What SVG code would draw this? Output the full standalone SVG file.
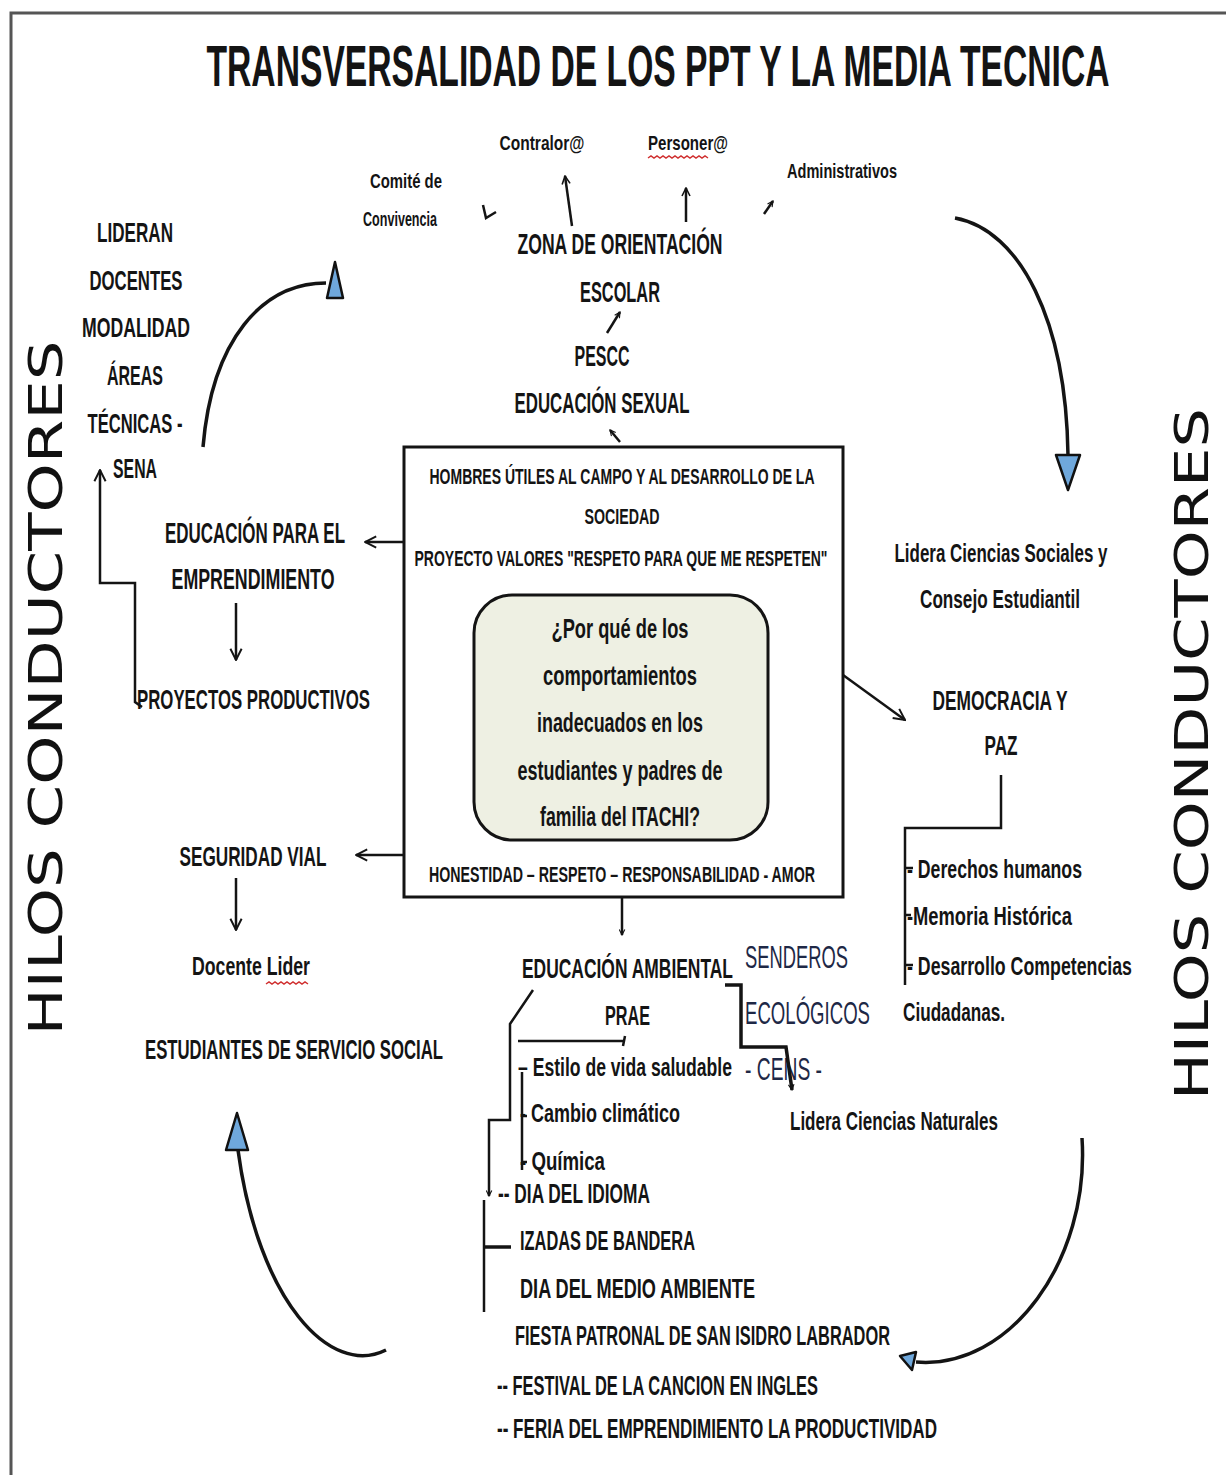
<svg xmlns="http://www.w3.org/2000/svg" width="1226" height="1475" viewBox="0 0 1226 1475">
<defs>
<style>
.t{font-family:"Liberation Sans",Arial,sans-serif;font-weight:bold;fill:#141414;}
.m{text-anchor:middle;}
.s{font-family:"Liberation Sans",Arial,sans-serif;fill:#1e2846;}
.h{font-family:"DejaVu Sans","Liberation Sans",sans-serif;fill:#111;font-size:46px;}
.ln{fill:none;stroke:#141414;stroke-width:2.5;}
.lt{fill:none;stroke:#141414;stroke-width:3.5;}
.tri{fill:#6fa8dc;stroke:#111;stroke-width:2.5;stroke-linejoin:round;}
.wave{fill:none;stroke:#d03030;stroke-width:1.5;}
</style>
<marker id="a" viewBox="0 0 10 10" refX="9" refY="5" markerWidth="7" markerHeight="7" orient="auto" markerUnits="userSpaceOnUse">
<path d="M1,1 L9,5 L1,9" fill="none" stroke="#141414" stroke-width="1.6"/>
</marker>
<marker id="as" viewBox="0 0 10 10" refX="9" refY="5" markerWidth="10" markerHeight="10" orient="auto" markerUnits="userSpaceOnUse">
<path d="M1,1 L9,5 L1,9" fill="none" stroke="#141414" stroke-width="1.6"/>
</marker>
<marker id="ab" viewBox="0 0 10 10" refX="9" refY="5" markerWidth="14" markerHeight="14" orient="auto" markerUnits="userSpaceOnUse">
<path d="M1,1 L9,5 L1,9" fill="none" stroke="#141414" stroke-width="1.4"/>
</marker>
</defs>
<rect x="0" y="0" width="1226" height="1475" fill="#fff"/>
<path d="M11,1475 L11,13 L1226,13" fill="none" stroke="#555" stroke-width="3"/>

<g id="title"><text class="t m" x="658" y="86" font-size="58" textLength="903" lengthAdjust="spacingAndGlyphs">TRANSVERSALIDAD DE LOS PPT Y LA MEDIA TECNICA</text></g>

<g id="hilos-left"><text class="h m" transform="translate(62,688) rotate(-90)" textLength="695" lengthAdjust="spacingAndGlyphs">HILOS CONDUCTORES</text></g>
<g id="hilos-right"><text class="h m" transform="translate(1208,754) rotate(-90)" textLength="692" lengthAdjust="spacingAndGlyphs">HILOS CONDUCTORES</text></g>

<g id="contralor"><text class="t m" x="542" y="150" font-size="21" textLength="85" lengthAdjust="spacingAndGlyphs">Contralor@</text></g>
<g id="personero"><text class="t m" x="688" y="150" font-size="21" textLength="80" lengthAdjust="spacingAndGlyphs">Personer@</text>
<path class="wave" d="M648,158 l3,-2 l3,2 l3,-2 l3,2 l3,-2 l3,2 l3,-2 l3,2 l3,-2 l3,2 l3,-2 l3,2 l3,-2 l3,2 l3,-2 l3,2 l3,-2 l3,2 l3,-2 l3,2"/></g>
<g id="comite"><text class="t m" x="406" y="188" font-size="21" textLength="72" lengthAdjust="spacingAndGlyphs">Comité de</text>
<text class="t m" x="400" y="226" font-size="21" textLength="74" lengthAdjust="spacingAndGlyphs">Convivencia</text></g>
<g id="administrativos"><text class="t m" x="842" y="178" font-size="20" textLength="110" lengthAdjust="spacingAndGlyphs">Administrativos</text></g>

<g id="zona"><text class="t m" x="620" y="254" font-size="30" textLength="205" lengthAdjust="spacingAndGlyphs">ZONA DE ORIENTACIÓN</text>
<text class="t m" x="620" y="302" font-size="30" textLength="80" lengthAdjust="spacingAndGlyphs">ESCOLAR</text></g>
<g id="pescc"><text class="t m" x="602" y="366" font-size="30" textLength="55" lengthAdjust="spacingAndGlyphs">PESCC</text>
<text class="t m" x="602" y="413" font-size="30" textLength="175" lengthAdjust="spacingAndGlyphs">EDUCACIÓN SEXUAL</text></g>

<g id="lideran">
<text class="t m" x="135" y="242" font-size="28" textLength="76" lengthAdjust="spacingAndGlyphs">LIDERAN</text>
<text class="t m" x="136" y="290" font-size="28" textLength="93" lengthAdjust="spacingAndGlyphs">DOCENTES</text>
<text class="t m" x="136" y="337" font-size="28" textLength="108" lengthAdjust="spacingAndGlyphs">MODALIDAD</text>
<text class="t m" x="135" y="385" font-size="28" textLength="56" lengthAdjust="spacingAndGlyphs">ÁREAS</text>
<text class="t m" x="135" y="433" font-size="28" textLength="95" lengthAdjust="spacingAndGlyphs">TÉCNICAS -</text>
<text class="t m" x="135" y="478" font-size="28" textLength="44" lengthAdjust="spacingAndGlyphs">SENA</text>
</g>
<g id="emprendimiento"><text class="t m" x="255" y="543" font-size="29" textLength="180" lengthAdjust="spacingAndGlyphs">EDUCACIÓN PARA EL</text>
<text class="t m" x="253" y="589" font-size="29" textLength="163" lengthAdjust="spacingAndGlyphs">EMPRENDIMIENTO</text></g>
<g id="proyectos"><text class="t" x="137" y="709" font-size="28" textLength="233" lengthAdjust="spacingAndGlyphs">PROYECTOS PRODUCTIVOS</text></g>
<g id="seguridad"><text class="t m" x="253" y="866" font-size="28" textLength="147" lengthAdjust="spacingAndGlyphs">SEGURIDAD VIAL</text></g>
<g id="docente"><text class="t m" x="251" y="975" font-size="25" textLength="118" lengthAdjust="spacingAndGlyphs">Docente Lider</text>
<path class="wave" d="M266,984 l3,-2 l3,2 l3,-2 l3,2 l3,-2 l3,2 l3,-2 l3,2 l3,-2 l3,2 l3,-2 l3,2 l3,-2 l3,2"/></g>
<g id="estudiantes"><text class="t m" x="294" y="1059" font-size="28" textLength="298" lengthAdjust="spacingAndGlyphs">ESTUDIANTES DE SERVICIO SOCIAL</text></g>

<g id="centro">
<rect x="404" y="447" width="439" height="450" fill="#fff" stroke="#141414" stroke-width="3"/>
<text class="t m" x="622" y="484" font-size="22" textLength="385" lengthAdjust="spacingAndGlyphs">HOMBRES ÚTILES AL CAMPO Y AL DESARROLLO DE LA</text>
<text class="t m" x="622" y="524" font-size="22" textLength="75" lengthAdjust="spacingAndGlyphs">SOCIEDAD</text>
<text class="t m" x="621" y="566" font-size="22" textLength="413" lengthAdjust="spacingAndGlyphs">PROYECTO VALORES "RESPETO PARA QUE ME RESPETEN"</text>
<text class="t m" x="622" y="882" font-size="22" textLength="386" lengthAdjust="spacingAndGlyphs">HONESTIDAD – RESPETO – RESPONSABILIDAD - AMOR</text>
</g>
<g id="pregunta">
<rect x="474" y="595" width="294" height="245" rx="38" fill="#eef0e3" stroke="#141414" stroke-width="3"/>
<text class="t m" x="620" y="638" font-size="28" textLength="137" lengthAdjust="spacingAndGlyphs">¿Por qué de los</text>
<text class="t m" x="620" y="685" font-size="28" textLength="154" lengthAdjust="spacingAndGlyphs">comportamientos</text>
<text class="t m" x="620" y="732" font-size="28" textLength="166" lengthAdjust="spacingAndGlyphs">inadecuados en los</text>
<text class="t m" x="620" y="780" font-size="28" textLength="205" lengthAdjust="spacingAndGlyphs">estudiantes y padres de</text>
<text class="t m" x="620" y="826" font-size="28" textLength="160" lengthAdjust="spacingAndGlyphs">familia del ITACHI?</text>
</g>

<g id="sociales"><text class="t m" x="1001" y="562" font-size="25" textLength="213" lengthAdjust="spacingAndGlyphs">Lidera Ciencias Sociales y</text>
<text class="t m" x="1000" y="608" font-size="25" textLength="160" lengthAdjust="spacingAndGlyphs">Consejo Estudiantil</text></g>
<g id="democracia"><text class="t m" x="1000" y="710" font-size="27" textLength="135" lengthAdjust="spacingAndGlyphs">DEMOCRACIA Y</text>
<text class="t m" x="1001" y="755" font-size="27" textLength="33" lengthAdjust="spacingAndGlyphs">PAZ</text></g>
<g id="democracia-items">
<text class="t" x="907" y="878" font-size="25" textLength="175" lengthAdjust="spacingAndGlyphs">- Derechos humanos</text>
<text class="t" x="907" y="925" font-size="25" textLength="165" lengthAdjust="spacingAndGlyphs">-Memoria Histórica</text>
<text class="t" x="907" y="975" font-size="25" textLength="225" lengthAdjust="spacingAndGlyphs">- Desarrollo Competencias</text>
<text class="t" x="903" y="1021" font-size="25" textLength="102" lengthAdjust="spacingAndGlyphs">Ciudadanas.</text>
</g>

<g id="ambiental"><text class="t" x="522" y="978" font-size="27" textLength="211" lengthAdjust="spacingAndGlyphs">EDUCACIÓN AMBIENTAL</text>
<text class="t" x="605" y="1025" font-size="27" textLength="45" lengthAdjust="spacingAndGlyphs">PRAE</text></g>
<g id="senderos">
<text class="s" x="745" y="968" font-size="31" textLength="103" lengthAdjust="spacingAndGlyphs">SENDEROS</text>
<text class="s" x="745" y="1024" font-size="31" textLength="125" lengthAdjust="spacingAndGlyphs">ECOLÓGICOS</text>
<text class="s" x="745" y="1080" font-size="31" textLength="77" lengthAdjust="spacingAndGlyphs">- CENS -</text>
</g>
<g id="prae-items">
<text class="t" x="518" y="1076" font-size="25" textLength="214" lengthAdjust="spacingAndGlyphs">– Estilo de vida saludable</text>
<text class="t" x="520" y="1122" font-size="25" textLength="160" lengthAdjust="spacingAndGlyphs">- Cambio climático</text>
<text class="t" x="520" y="1170" font-size="25" textLength="85" lengthAdjust="spacingAndGlyphs">- Química</text>
</g>
<g id="naturales"><text class="t" x="790" y="1130" font-size="25" textLength="208" lengthAdjust="spacingAndGlyphs">Lidera Ciencias Naturales</text></g>
<g id="eventos">
<text class="t" x="498" y="1203" font-size="27" textLength="152" lengthAdjust="spacingAndGlyphs">-- DIA DEL IDIOMA</text>
<text class="t" x="520" y="1250" font-size="27" textLength="175" lengthAdjust="spacingAndGlyphs">IZADAS DE BANDERA</text>
<text class="t" x="520" y="1298" font-size="27" textLength="235" lengthAdjust="spacingAndGlyphs">DIA  DEL  MEDIO AMBIENTE</text>
<text class="t" x="515" y="1345" font-size="27" textLength="375" lengthAdjust="spacingAndGlyphs">FIESTA PATRONAL DE SAN ISIDRO LABRADOR</text>
<text class="t" x="497" y="1395" font-size="27" textLength="321" lengthAdjust="spacingAndGlyphs">-- FESTIVAL DE LA CANCION EN INGLES</text>
<text class="t" x="497" y="1438" font-size="27" textLength="440" lengthAdjust="spacingAndGlyphs">-- FERIA DEL EMPRENDIMIENTO LA PRODUCTIVIDAD</text>
</g>

<g id="connectors">
<path class="ln" d="M483,205 L486,218 L496,212"/>
<path class="ln" d="M572,226 L565,176" marker-end="url(#as)"/>
<path class="ln" d="M686,222 L686,188" marker-end="url(#as)"/>
<path class="ln" d="M764,214 L773,201" marker-end="url(#a)"/>
<path class="ln" d="M607,333 L620,312" marker-end="url(#a)"/>
<path class="ln" d="M620,442 L610,430" marker-end="url(#a)"/>
<path class="ln" d="M404,542 L365,542" marker-end="url(#ab)"/>
<path class="ln" d="M236,603 L236,660" marker-end="url(#ab)"/>
<path class="ln" d="M142,707 L135,702 L135,583 L100,583 L100,470" marker-end="url(#ab)"/>
<path class="ln" d="M404,855 L356,855" marker-end="url(#ab)"/>
<path class="ln" d="M236,878 L236,930" marker-end="url(#ab)"/>
<path class="ln" d="M843,675 L905,720" marker-end="url(#ab)"/>
<path class="ln" d="M622,897 L622,935" marker-end="url(#a)"/>
<path class="lt" d="M203,447 C212,340 262,283 326,283"/>
<path class="tri" d="M335,262 L343,298 L327,298 Z"/>
<path class="lt" d="M955,218 C1020,230 1066,320 1068,455"/>
<path class="tri" d="M1056,455 L1080,455 L1068,490 Z"/>
<path class="lt" d="M386,1350 C330,1378 258,1300 238,1150"/>
<path class="tri" d="M237,1113 L248,1150 L226,1150 Z"/>
<path class="lt" d="M1082,1138 C1090,1260 1010,1370 916,1362"/>
<path class="tri" d="M900,1356 L916,1352 L912,1370 Z"/>
<path class="ln" d="M1001,775 L1001,828 L905,828 L905,985"/>
<path class="ln" d="M905,868 L913,868 M905,915 L911,915 M905,965 L913,965"/>
<path class="lt" d="M725,985 L741,985 L741,1047 L786,1047 L792,1090" marker-end="url(#a)"/>
<path class="ln" d="M518,1041 L623,1041 M625,1036 L623,1046"/>
<path class="ln" d="M522,1072 L522,1170 M522,1116 L527,1116 M522,1162 L527,1162"/>
<path class="ln" d="M533,990 L510,1024 L510,1120 L489,1120 L489,1196" marker-end="url(#a)"/>
<path class="ln" d="M484,1200 L484,1312"/>
<path class="lt" d="M484,1247 L511,1247"/>
</g>
</svg>
